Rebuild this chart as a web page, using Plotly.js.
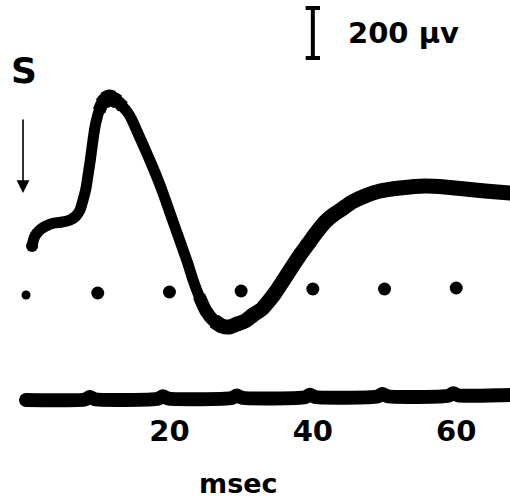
<!DOCTYPE html>
<html>
<head>
<meta charset="utf-8">
<script src="https://cdn.plot.ly/plotly-3.0.1.min.js"></script>
<style>html,body{margin:0;padding:0;background:#fff;}#chart{width:510px;height:501px;}</style>
</head>
<body>
<div id="chart"></div>
<script>
// Evoked potential trace (time in ms after stimulus S, amplitude in µV)
const traceMs = [0.84, 1.12, 1.53, 2.09, 2.79, 3.91, 5.02, 6.14, 6.97, 7.53, 7.95, 8.37, 8.65, 8.93, 9.21, 9.48, 9.76, 10.18, 10.60, 11.02, 11.58, 12.13, 12.83, 13.53, 14.23, 14.78, 15.34, 15.90, 16.46, 17.43, 18.41, 19.25, 20.08, 20.92, 21.76, 22.59, 23.29, 24.13, 25.10, 26.22, 27.34, 28.31, 29.43, 30.54, 31.66, 32.91, 33.75, 34.73, 35.84, 37.10, 38.21, 39.33, 40.45, 41.70, 42.82, 44.07, 45.47, 47.28, 49.37, 52.16, 55.65, 58.44, 61.23, 64.02, 67.50, 68.90];
const traceUV = [180, 212, 232, 248, 260, 272, 276, 284, 300, 324, 364, 412, 464, 516, 576, 632, 676, 720, 748, 764, 772, 768, 756, 736, 712, 684, 648, 612, 576, 512, 444, 380, 312, 244, 176, 108, 44, -20, -80, -120, -140, -144, -132, -120, -96, -72, -44, -8, 40, 96, 144, 188, 232, 276, 304, 328, 356, 380, 400, 412, 420, 416, 408, 400, 392, 388];

// 10 ms time-marker dots
const markerMs = [0, 10, 20, 30, 40, 50, 60];
const markerUV = [-16, -8, -4, 0, 8, 8, 12];
const markerSize = [9, 13, 13, 13, 13, 13, 13];

// Lower baseline trace with small 10 ms blips
const baselineMs = [0, 8.2, 8.9, 9.6, 18.4, 19.1, 19.8, 28.7, 29.4, 30.1, 38.9, 39.6, 40.3, 49.0, 49.7, 50.4, 58.9, 59.6, 60.3, 67.5, 69.0];
const baselineUV = [-436, -434, -424, -433, -431, -421, -430, -428, -418, -427, -425, -415, -424, -422, -412, -421, -419, -409, -418, -416, -416];

// Axis tick labels and scale
const tickVals = [20, 40, 60];
const tickText = ['20', '40', '60'];
const xTitle = 'msec';
const scaleBarUV = 200;
const scaleLabel = '200 µv';
const stimLabel = 'S';

const scaleX = 40.0, scaleBottom = 932;
const plotH = 411;  // plot-area height in px (501 - bottom margin)

function seg(xs, ys, w, withDots) {
  return {x: xs, y: ys, mode: withDots ? 'lines+markers' : 'lines', hoverinfo: 'skip',
          line: {color: '#000', width: w, shape: 'spline', smoothing: 0.6},
          marker: {color: '#000', size: w, opacity: 1, line: {width: 0}}};
}
function part(from, to, w) {
  return seg(traceMs.slice(from, to), traceUV.slice(from, to), w, false);
}

// the photographed beam is thicker at the peak and from the trough onward
const traces = [
  seg(baselineMs, baselineUV, 14, false),
  seg(baselineMs.slice(0, 1), baselineUV.slice(0, 1), 14, true),
  {x: markerMs, y: markerUV, mode: 'markers', hoverinfo: 'skip',
   marker: {color: '#000', size: markerSize, symbol: 'circle', opacity: 1, line: {width: 0}}},
  seg(traceMs, traceUV, 11, false),
  seg(traceMs.slice(0, 1), traceUV.slice(0, 1), 12, true),
  part(17, 24, 13),
  part(18, 23, 15),
  part(19, 22, 17),
  part(37, traceMs.length, 13),
  part(39, traceMs.length, 15)
];

const layout = {
  width: 510, height: 501,
  margin: {l: 0, r: 0, t: 0, b: 501 - plotH},
  paper_bgcolor: '#fff', plot_bgcolor: '#fff',
  showlegend: false,
  xaxis: {range: [-3.63, 67.5], showgrid: false, zeroline: false, showline: false, ticks: '',
          tickmode: 'array', tickvals: tickVals, ticktext: tickText,
          tickfont: {family: 'DejaVu Sans', size: 29, color: '#000', weight: 'bold'}},
  yaxis: {range: [-480, 1164], showgrid: false, zeroline: false, showline: false, showticklabels: false, ticks: ''},
  shapes: [
    {type: 'line', xref: 'x', yref: 'y', x0: scaleX, x1: scaleX, y0: scaleBottom, y1: scaleBottom + scaleBarUV, line: {color: '#000', width: 4}},
    {type: 'line', xref: 'x', yref: 'y', x0: scaleX - 1.0, x1: scaleX + 1.0, y0: scaleBottom, y1: scaleBottom, line: {color: '#000', width: 4}},
    {type: 'line', xref: 'x', yref: 'y', x0: scaleX - 1.0, x1: scaleX + 1.0, y0: scaleBottom + scaleBarUV, y1: scaleBottom + scaleBarUV, line: {color: '#000', width: 4}}
  ],
  annotations: [
    {x: 52.7, y: 1032, xref: 'x', yref: 'y', text: scaleLabel, showarrow: false, xanchor: 'center', yanchor: 'middle',
     font: {family: 'DejaVu Sans', size: 29, color: '#000', weight: 'bold'}},
    {x: -0.28, y: 884, xref: 'x', yref: 'y', text: stimLabel, showarrow: false, xanchor: 'center', yanchor: 'middle',
     font: {family: 'DejaVu Sans', size: 36, color: '#000', weight: 'bold'}},
    {x: -0.42, y: 392, xref: 'x', yref: 'y', text: '', showarrow: true, ax: 0, ay: -75, arrowhead: 2, arrowsize: 1.6, arrowwidth: 1.6, arrowcolor: '#000'},
    {x: 238 / 510, y: (plotH - 483.5) / plotH, xref: 'paper', yref: 'paper', text: xTitle, showarrow: false, xanchor: 'center', yanchor: 'middle',
     font: {family: 'DejaVu Sans', size: 27, color: '#000', weight: 'bold'}}
  ]
};

Plotly.newPlot('chart', traces, layout, {staticPlot: true, displayModeBar: false});
</script>
</body>
</html>
